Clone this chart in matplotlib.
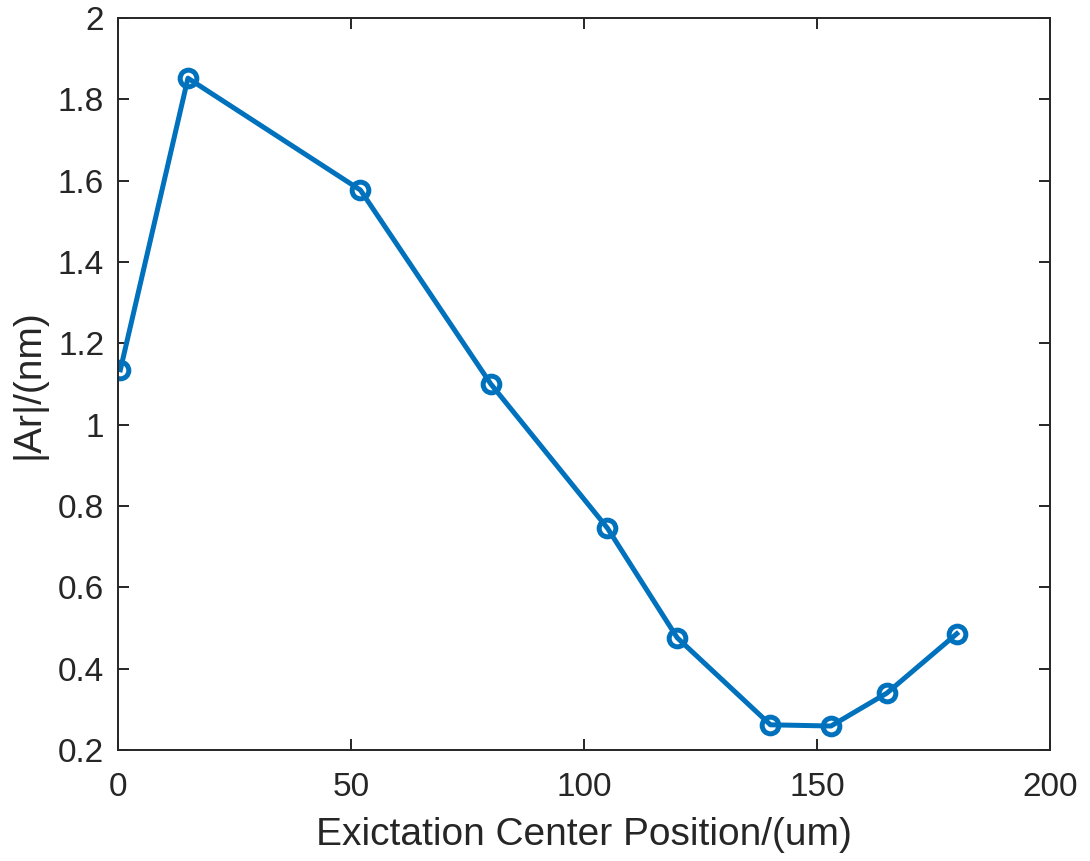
import numpy as np
import matplotlib.pyplot as plt

plt.rcParams['font.family'] = ['Liberation Sans', 'DejaVu Sans']

# data
position = [0.5, 15, 52, 80, 105, 120, 140, 153, 165, 180]
amplitude = [1.135, 1.852, 1.577, 1.100, 0.746, 0.476, 0.262, 0.259, 0.340, 0.486]

x_ticks = [0, 50, 100, 150, 200]
y_ticks = [0.2, 0.4, 0.6, 0.8, 1, 1.2, 1.4, 1.6, 1.8, 2]
y_tick_labels = ['0.2', '0.4', '0.6', '0.8', '1', '1.2', '1.4', '1.6', '1.8', '2']

fig = plt.figure(figsize=(10.9, 8.61), dpi=100)
ax = fig.add_axes([0.1083, 0.1289, 0.855, 0.8502])

ax.plot(position, amplitude, color='#0072BD', linewidth=3.6,
        marker='o', markersize=12, markerfacecolor='none',
        markeredgewidth=3.6, markeredgecolor='#0072BD')

ax.set_xlim(0, 200)
ax.set_ylim(0.2, 2)
ax.set_xticks(x_ticks)
ax.set_yticks(y_ticks)
ax.set_yticklabels(y_tick_labels)

dark = '#262626'
for s in ax.spines.values():
    s.set_color(dark)
    s.set_linewidth(1.4)
ax.tick_params(direction='in', length=8, width=1.4, colors=dark,
               labelsize=24, top=True, right=True)
ax.tick_params(axis='x', pad=16)
ax.tick_params(axis='y', pad=10)

ax.set_xlabel('Exictation Center Position/(um)', fontsize=28, color=dark, labelpad=10)
ax.set_ylabel('|Ar|/(nm)', fontsize=28, color=dark, labelpad=8)

fig.savefig('out.png', dpi=100)
